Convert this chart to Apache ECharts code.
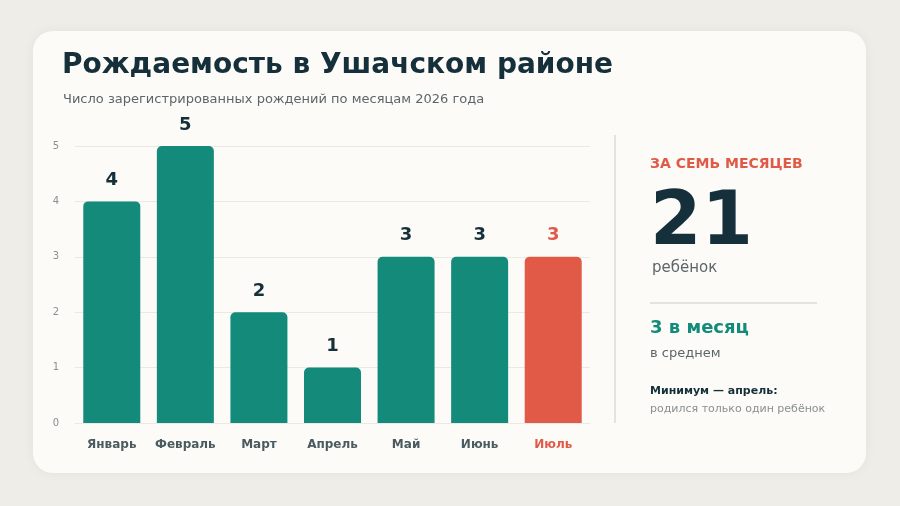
<!DOCTYPE html>
<html><head><meta charset="utf-8">
<script src="https://cdn.jsdelivr.net/npm/echarts@6/dist/echarts.min.js"></script>
<style>html,body{margin:0;padding:0;background:#efede7;}#c{width:900px;height:506px;}</style>
</head><body><div id="c"></div>
<script>
const categories = ["Январь","Февраль","Март","Апрель","Май","Июнь","Июль"];
const births = [4,5,2,1,3,3,3];
const highlightIndex = 6;
const yTicks = [0,1,2,3,4,5];
const teal = "#138a7a", red = "#e05a47", dark = "#15303a";
const F = "'DejaVu Sans', sans-serif";
const chart = echarts.init(document.getElementById('c'));
chart.setOption({
  backgroundColor: "#efede7",
  textStyle: {fontFamily: F},
  grid: {left: 75, right: 310, top: 146, bottom: 83},
  xAxis: {type: 'category',
    data: categories.map((c, i) => ({value: c, textStyle: {color: i === highlightIndex ? red : '#4a5a60'}})),
    axisLine: {show: true, lineStyle: {color: '#ebe9e3'}}, axisTick: {show: false},
    axisLabel: {interval: 0, margin: 16, fontSize: 12, fontWeight: 'bold'}},
  yAxis: {type: 'value', min: yTicks[0], max: yTicks[yTicks.length-1], interval: 1,
    axisLabel: {fontSize: 10, color: '#8a8f90', margin: 16},
    splitLine: {lineStyle: {color: '#ebe9e3'}}},
  series: [{type: 'bar', barWidth: 57,
    data: births.map((v, i) => ({value: v,
      itemStyle: {color: i === highlightIndex ? red : teal},
      label: {color: i === highlightIndex ? red : dark}})),
    itemStyle: {borderRadius: [5,5,0,0]},
    label: {show: true, position: 'top', distance: 12, fontSize: 18, fontWeight: 'bold'},
    z: 5
  }],
  graphic: [
    {type: 'rect', z: -10, shape: {x: 33, y: 31, width: 833, height: 442, r: 20},
      style: {fill: '#fcfbf7', shadowBlur: 12, shadowColor: 'rgba(0,0,0,0.05)'}},
    {type: 'text', left: 62, top: 52, style: {text: 'Рождаемость в Ушачском районе', font: "bold 28px " + F, fill: dark}},
    {type: 'text', left: 63, top: 93, style: {text: 'Число зарегистрированных рождений по месяцам 2026 года', font: "13px " + F, fill: '#5c666a'}},
    {type: 'line', shape: {x1: 615, y1: 135, x2: 615, y2: 423}, style: {stroke: '#dddbd5', lineWidth: 1.5}},
    {type: 'text', left: 650, top: 157, style: {text: 'ЗА СЕМЬ МЕСЯЦЕВ', font: "bold 14px " + F, fill: red}},
    {type: 'text', left: 650, top: 188, style: {text: String(births.reduce((a,b)=>a+b,0)), font: "bold 74px " + F, fill: dark}},
    {type: 'text', left: 652, top: 261, style: {text: 'ребёнок', font: "15px " + F, fill: '#5c666a'}},
    {type: 'line', shape: {x1: 650, y1: 303, x2: 817, y2: 303}, style: {stroke: '#dddbd5', lineWidth: 1.5}},
    {type: 'text', left: 650, top: 319, style: {text: '3 в месяц', font: "bold 18px " + F, fill: teal}},
    {type: 'text', left: 650, top: 347, style: {text: 'в среднем', font: "13px " + F, fill: '#5c666a'}},
    {type: 'text', left: 650, top: 386, style: {text: 'Минимум — апрель:', font: "bold 11px " + F, fill: dark}},
    {type: 'text', left: 650, top: 404, style: {text: 'родился только один ребёнок', font: "11px " + F, fill: '#8a8f90'}}
  ]
});
</script></body></html>
